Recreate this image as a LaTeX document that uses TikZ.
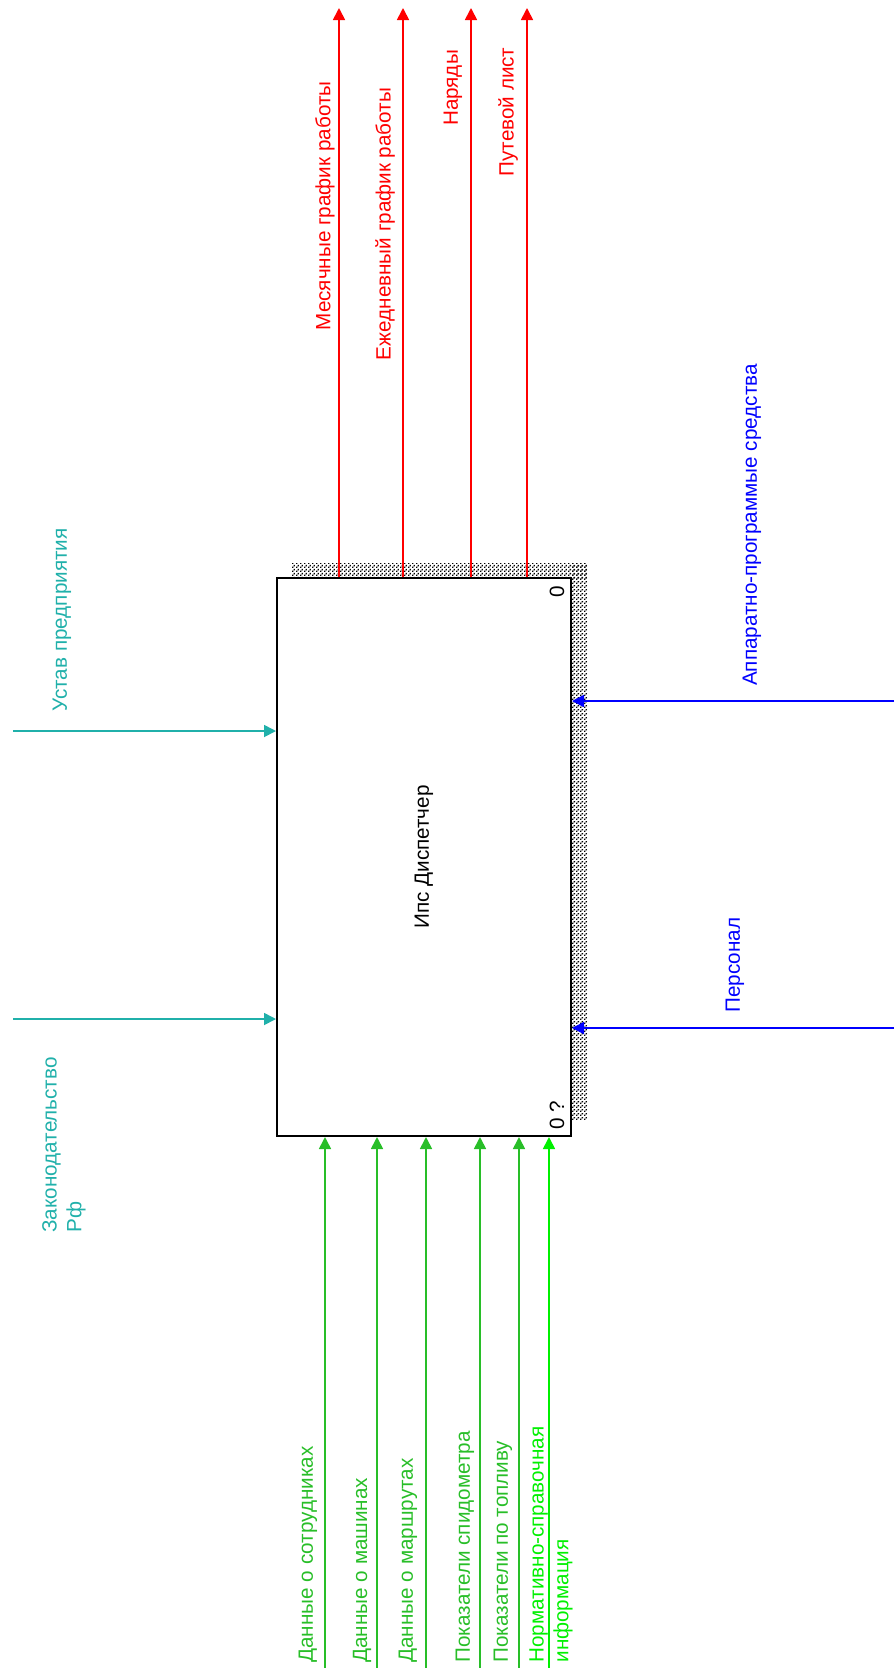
\documentclass[tikz,border=0pt]{standalone}
\usepackage{fontspec}
\setmainfont{Liberation Sans}
\usetikzlibrary{arrows.meta,patterns}

\definecolor{outred}{RGB}{255,0,0}
\definecolor{ctlteal}{RGB}{32,176,170}
\definecolor{mechblue}{RGB}{0,0,255}
\definecolor{ingreen}{RGB}{40,190,40}
\definecolor{inlime}{RGB}{0,240,0}

\pgfdeclarepatternformonly{shadowdots}{\pgfqpoint{0pt}{0pt}}{\pgfqpoint{3pt}{3pt}}{\pgfqpoint{3pt}{3pt}}{
\pgfpathrectangle{\pgfqpoint{0pt}{0pt}}{\pgfqpoint{1.2pt}{1.2pt}}
\pgfpathrectangle{\pgfqpoint{1.5pt}{1.5pt}}{\pgfqpoint{1.2pt}{1.2pt}}
\pgfusepath{fill}}

\tikzset{every picture/.style={line width=0.75pt}}
\tikzset{
lbl/.style={rotate=90, inner sep=0pt, font=\fontsize{15.5}{18.5}\selectfont},
arr/.style={line width=1.3pt, -{Triangle[length=9pt,width=9pt]}},
funcbox/.style={draw, line width=1.5pt, fill=white, inner sep=0pt,
  minimum width=220.5pt, minimum height=418.5pt,
  font=\fontsize{15.5}{18.5}\selectfont}}

\begin{document}
\begin{tikzpicture}[x=0.75pt,y=0.75pt,yscale=-1,xscale=1]
\useasboundingbox (0,0) rectangle (894,1668);

%Shape: shadow of the box
\fill [pattern=shadowdots] (292,563) rectangle (587,578);
\fill [pattern=shadowdots] (571,563) rectangle (587,1120);
%Shape: function box
\node [funcbox] (ips) at (424,857) {\rotatebox{90}{Ипс Диспетчер}};
% Text Node
\node [lbl] (boxnum) at (557,592) {0};
% Text Node
\node [lbl] (boxref) at (557,1115) {0 ?};

%Straight Lines: outputs
\coordinate (mesOut) at (339,8);
\coordinate (ezhOut) at (403,8);
\coordinate (narOut) at (471,8);
\coordinate (putOut) at (527,8);
\draw [arr, outred] (mesOut |- ips.north) -- (mesOut);
\draw [arr, outred] (ezhOut |- ips.north) -- (ezhOut);
\draw [arr, outred] (narOut |- ips.north) -- (narOut);
\draw [arr, outred] (putOut |- ips.north) -- (putOut);
% Text Node
\node [lbl, outred] (mesLbl) at (325,206) {Месячные график работы};
% Text Node
\node [lbl, outred] (ezhLbl) at (385,224) {Ежедневный график работы};
% Text Node
\node [lbl, outred] (narLbl) at (453,88) {Наряды};
% Text Node
\node [lbl, outred] (putLbl) at (508,112) {Путевой лист};

%Straight Lines: controls
\coordinate (ustavIn) at (13,731);
\coordinate (zakonIn) at (13,1019);
\draw [arr, ctlteal] (ustavIn) -- (ustavIn -| ips.west);
\draw [arr, ctlteal] (zakonIn) -- (zakonIn -| ips.west);
% Text Node
\node [lbl, ctlteal] (ustavLbl) at (62,620) {Устав предприятия};
% Text Node
\node [lbl, ctlteal, align=left, anchor=west] (zakonLbl) at (64,1233) {Законодательство\\Рф};

%Straight Lines: mechanisms
\coordinate (appIn) at (894,701);
\coordinate (persIn) at (894,1028);
\draw [arr, mechblue] (appIn) -- (appIn -| ips.east);
\draw [arr, mechblue] (persIn) -- (persIn -| ips.east);
% Text Node
\node [lbl, mechblue] (appLbl) at (752,525) {Аппаратно-программые средства};
% Text Node
\node [lbl, mechblue] (persLbl) at (735,965) {Персонал};

%Straight Lines: inputs
\coordinate (sotrIn) at (325,1668);
\coordinate (mashIn) at (377,1668);
\coordinate (marshIn) at (426,1668);
\coordinate (spidIn) at (480,1668);
\coordinate (toplIn) at (519,1668);
\coordinate (normIn) at (549,1668);
\draw [arr, ingreen] (sotrIn) -- (sotrIn |- ips.south);
\draw [arr, ingreen] (mashIn) -- (mashIn |- ips.south);
\draw [arr, ingreen] (marshIn) -- (marshIn |- ips.south);
\draw [arr, ingreen] (spidIn) -- (spidIn |- ips.south);
\draw [arr, ingreen] (toplIn) -- (toplIn |- ips.south);
\draw [arr, inlime] (normIn) -- (normIn |- ips.south);
% Text Node
\node [lbl, ingreen, anchor=west] (sotrLbl) at (308,1663) {Данные о сотрудниках};
% Text Node
\node [lbl, ingreen, anchor=west] (mashLbl) at (362,1663) {Данные о машинах};
% Text Node
\node [lbl, ingreen, anchor=west] (marshLbl) at (408,1663) {Данные о маршрутах};
% Text Node
\node [lbl, ingreen, anchor=west] (spidLbl) at (465,1663) {Показатели спидометра};
% Text Node
\node [lbl, ingreen, anchor=west] (toplLbl) at (503,1663) {Показатели по топливу};
% Text Node
\node [lbl, inlime, anchor=west, align=left] (normLbl) at (551,1663) {Нормативно-справочная\\информация};

\end{tikzpicture}
\end{document}
